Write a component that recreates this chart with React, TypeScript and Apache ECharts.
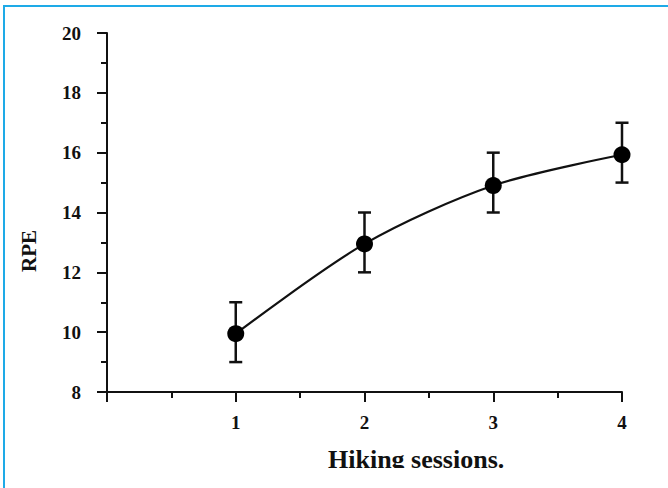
import React, { useEffect, useRef } from 'react';
import * as echarts from 'echarts';

const sessions = [1, 2, 3, 4];
const rpeMean = [9.95, 12.95, 14.9, 15.93];
const rpeLow = [9, 12, 14, 15];
const rpeHigh = [11, 14, 16, 17];
const xTitle = 'Hiking sessions.';
const yTitle = 'RPE';

const FONT = '"Liberation Serif", "Times New Roman", serif';
const INK = '#111';

export default function App() {
  const ref = useRef<HTMLDivElement>(null);
  useEffect(() => {
    if (!ref.current) return;
    const chart = echarts.init(ref.current, undefined, { renderer: 'svg' });
    const meanData = sessions.map((s, i) => [s, rpeMean[i]]);
    const errData = sessions.map((s, i) => [s, rpeLow[i], rpeHigh[i]]);
    const axisCommon = {
      axisLine: { show: true, lineStyle: { color: INK, width: 2 } },
      axisTick: { show: true, length: 10, lineStyle: { color: INK, width: 2 } },
      minorTick: { show: true, splitNumber: 2, length: 6, lineStyle: { color: INK, width: 2 } },
      splitLine: { show: false },
      minorSplitLine: { show: false },
    };
    chart.setOption({
      animation: false,
      backgroundColor: '#fff',
      grid: { left: 107, top: 33, right: 46, bottom: 96, containLabel: false },
      xAxis: {
        type: 'value',
        min: 0,
        max: 4,
        interval: 1,
        ...axisCommon,
        axisLabel: {
          formatter: (v: number) => (v === 0 ? '' : String(v)),
          fontFamily: FONT,
          fontWeight: 'bold',
          fontSize: 19,
          color: INK,
          margin: 21,
        },
      },
      yAxis: {
        type: 'value',
        min: 8,
        max: 20,
        interval: 2,
        ...axisCommon,
        axisLabel: {
          fontFamily: FONT,
          fontWeight: 'bold',
          fontSize: 19,
          color: INK,
          margin: 26,
        },
      },
      series: [
        {
          type: 'custom',
          data: errData,
          z: 3,
          renderItem: (params: any, api: any) => {
            const x = api.value(0);
            const top = api.coord([x, api.value(2)]);
            const bot = api.coord([x, api.value(1)]);
            const hw = 6.5;
            const style = { stroke: INK, lineWidth: 2.5 };
            return {
              type: 'group',
              children: [
                { type: 'line', shape: { x1: top[0], y1: top[1], x2: bot[0], y2: bot[1] }, style },
                { type: 'line', shape: { x1: top[0] - hw, y1: top[1], x2: top[0] + hw, y2: top[1] }, style },
                { type: 'line', shape: { x1: bot[0] - hw, y1: bot[1], x2: bot[0] + hw, y2: bot[1] }, style },
              ],
            };
          },
        },
        {
          type: 'line',
          data: meanData,
          smooth: 0.3,
          symbol: 'circle',
          symbolSize: 17,
          z: 4,
          itemStyle: { color: '#000' },
          lineStyle: { color: INK, width: 2.2 },
        },
      ],
      graphic: [
        {
          type: 'text',
          z: 10,
          x: 328,
          y: 446,
          style: { text: xTitle, font: `bold 26px ${FONT}`, fill: INK, textAlign: 'left', textVerticalAlign: 'top' },
        },
        {
          type: 'rect',
          z: 20,
          shape: { x: 5, y: 468, width: 663, height: 20 },
          style: { fill: '#fff' },
        },
        {
          type: 'text',
          z: 10,
          x: 29,
          y: 251,
          rotation: Math.PI / 2,
          style: { text: yTitle, font: `bold 21px ${FONT}`, fill: INK, textAlign: 'center', textVerticalAlign: 'middle' },
        },
        {
          type: 'rect',
          z: 30,
          shape: { x: 3, y: 5, width: 665, height: 2 },
          style: { fill: '#1eaae7' },
        },
        {
          type: 'rect',
          z: 30,
          shape: { x: 3, y: 5, width: 2, height: 483 },
          style: { fill: '#1eaae7' },
        },
      ],
    });
    return () => chart.dispose();
  }, []);
  return <div ref={ref} style={{ position: 'fixed', left: 0, top: 0, width: 668, height: 488 }} />;
}
